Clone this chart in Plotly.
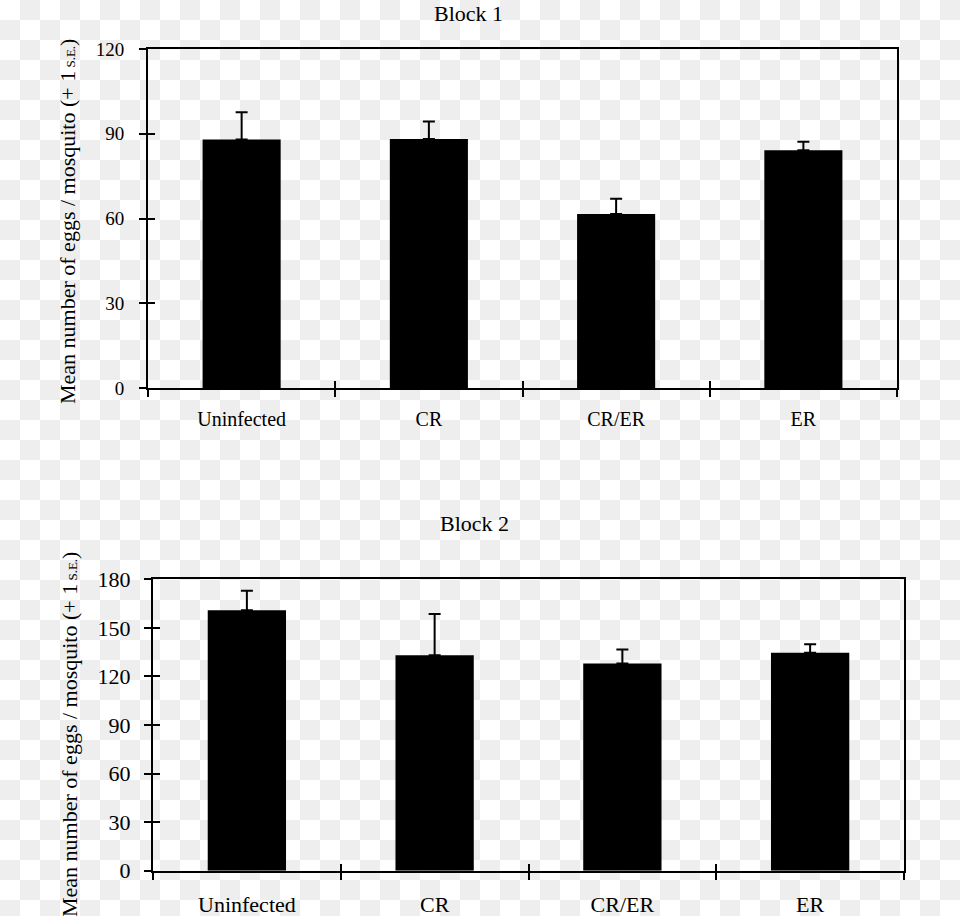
import base64
import plotly.graph_objects as go

categories = ["Uninfected", "CR", "CR/ER", "ER"]
block1_means = [88.0, 88.1, 61.6, 84.2]
block1_se = [9.6, 6.2, 5.4, 3.0]
block2_means = [160.9, 133.1, 128.0, 134.6]
block2_se = [12.0, 25.4, 8.6, 5.3]
block1_ticks = [0, 30, 60, 90, 120]
block2_ticks = [0, 30, 60, 90, 120, 150, 180]

W, H = 960, 916
FONT = "Liberation Serif, Times New Roman, serif"

def px_x(p):
    return p / W

def px_y(p):
    return 1 - p / H

# checkerboard (transparency) background as an SVG pattern
svg = (
    f'<svg xmlns="http://www.w3.org/2000/svg" width="{W}" height="{H}">'
    '<defs><pattern id="c" width="40" height="40" patternUnits="userSpaceOnUse">'
    '<rect width="40" height="40" fill="#ffffff"/>'
    '<rect x="20" y="0" width="20" height="20" fill="#eeeeee"/>'
    '<rect x="0" y="20" width="20" height="20" fill="#eeeeee"/>'
    '</pattern></defs>'
    f'<rect width="{W}" height="{H}" fill="url(#c)"/></svg>'
)
bg_uri = "data:image/svg+xml;base64," + base64.b64encode(svg.encode()).decode()

fig = go.Figure()

fig.add_trace(go.Bar(
    x=categories, y=block1_means, marker=dict(color="black", line=dict(width=0)),
    error_y=dict(type="data", symmetric=False, array=block1_se,
                 arrayminus=[0] * len(block1_se), color="black", thickness=2, width=6),
    xaxis="x", yaxis="y", showlegend=False,
))
fig.add_trace(go.Bar(
    x=categories, y=block2_means, marker=dict(color="black", line=dict(width=0)),
    error_y=dict(type="data", symmetric=False, array=block2_se,
                 arrayminus=[0] * len(block2_se), color="black", thickness=2, width=6),
    xaxis="x2", yaxis="y2", showlegend=False,
))
# invisible traces so the overlay axes (inner half of crossing ticks) are drawn
fig.add_trace(go.Scatter(x=categories, y=[None] * 4, xaxis="x3", yaxis="y3",
                         showlegend=False, hoverinfo="skip"))
fig.add_trace(go.Scatter(x=categories, y=[None] * 4, xaxis="x4", yaxis="y4",
                         showlegend=False, hoverinfo="skip"))

d1x = [px_x(148), px_x(897)]
d1y = [px_y(388), px_y(49)]
d2x = [px_x(153), px_x(904)]
d2y = [px_y(870.7), px_y(579.3)]

axis_common = dict(showline=True, linecolor="black", linewidth=2, showgrid=False,
                   zeroline=False, tickcolor="black", tickwidth=2, automargin=False)
overlay_common = dict(showticklabels=False, showline=False, showgrid=False,
                      zeroline=False, tickcolor="black", tickwidth=2,
                      ticks="inside", ticklen=7, automargin=False)

fig.update_layout(
    width=W, height=H, autosize=False,
    margin=dict(l=0, r=0, t=0, b=0, pad=0, autoexpand=False),
    paper_bgcolor="rgba(0,0,0,0)", plot_bgcolor="rgba(0,0,0,0)",
    font=dict(family=FONT, color="black"),
    bargap=0.583, showlegend=False,
    images=[dict(source=bg_uri, xref="paper", yref="paper", x=0, y=1,
                 sizex=1, sizey=1, sizing="stretch", layer="below",
                 xanchor="left", yanchor="top")],
    xaxis=dict(domain=d1x, anchor="y", type="category", categoryorder="array",
               categoryarray=categories, range=[-0.5, 3.5], tickson="boundaries",
               ticks="outside", ticklen=7, mirror=True, ticklabelstandoff=12,
               tickfont=dict(size=20, family=FONT), **axis_common),
    yaxis=dict(domain=d1y, anchor="x", range=[0, 120], tickvals=block1_ticks,
               ticks="outside", ticklen=7, mirror=True, ticklabelstandoff=11,
               tickfont=dict(size=19, family=FONT), **axis_common),
    xaxis2=dict(domain=d2x, anchor="y2", type="category", categoryorder="array",
                categoryarray=categories, range=[-0.5, 3.5], tickson="boundaries",
                ticks="outside", ticklen=7, mirror=True, ticklabelstandoff=13,
                tickfont=dict(size=22, family=FONT), **axis_common),
    yaxis2=dict(domain=d2y, anchor="x2", range=[0, 180], tickvals=block2_ticks,
                ticks="outside", ticklen=7, mirror=True, ticklabelstandoff=9,
                tickfont=dict(size=22, family=FONT), **axis_common),
    xaxis3=dict(overlaying="x", anchor="y", type="category", categoryorder="array",
                categoryarray=categories, range=[-0.5, 3.5], tickson="boundaries",
                **overlay_common),
    yaxis3=dict(overlaying="y", anchor="x", range=[0, 120], tickvals=block1_ticks,
                **overlay_common),
    xaxis4=dict(overlaying="x2", anchor="y2", type="category", categoryorder="array",
                categoryarray=categories, range=[-0.5, 3.5], tickson="boundaries",
                **overlay_common),
    yaxis4=dict(overlaying="y2", anchor="x2", range=[0, 180], tickvals=block2_ticks,
                **overlay_common),
)

ytitle = "Mean number of eggs / mosquito (+ 1<span style='font-size:13px'> S.E.</span>)"
ann = dict(xref="paper", yref="paper", showarrow=False, xanchor="center", yanchor="middle")
fig.add_annotation(text="Block 1", x=px_x(468), y=px_y(13),
                   font=dict(size=22, family=FONT), **ann)
fig.add_annotation(text="Block 2", x=px_x(474), y=px_y(523),
                   font=dict(size=22, family=FONT), **ann)
fig.add_annotation(text=ytitle, x=px_x(68), y=px_y(222), textangle=-90,
                   font=dict(size=22, family=FONT), **ann)
fig.add_annotation(text=ytitle, x=px_x(69), y=px_y(735), textangle=-90,
                   font=dict(size=22, family=FONT), **ann)

fig.write_html(
    "out.html",
    config={"displayModeBar": False, "staticPlot": True},
    post_script="document.body.style.margin='0';document.body.style.overflow='hidden';",
)
